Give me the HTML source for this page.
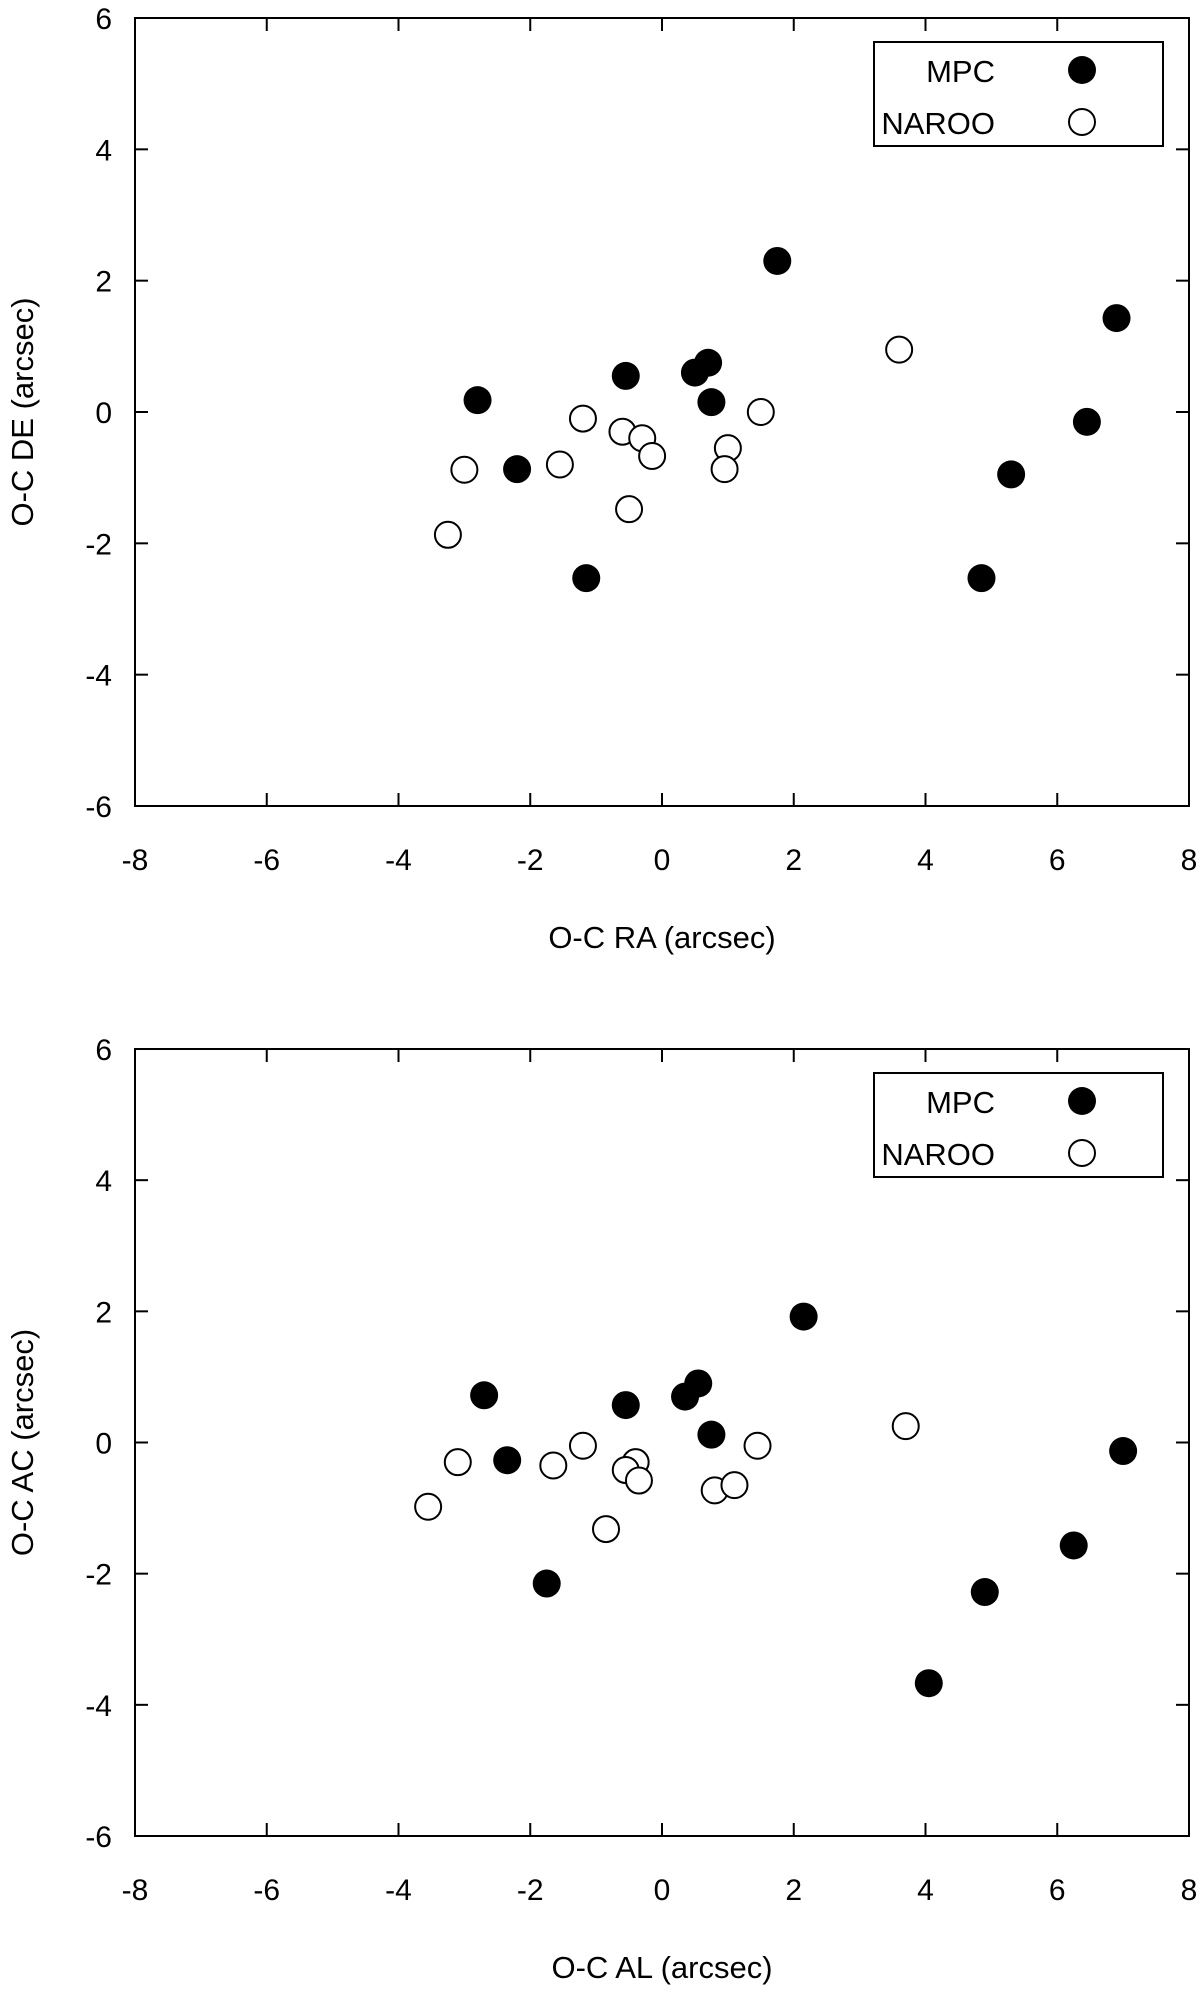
<!DOCTYPE html>
<html><head><meta charset="utf-8"><style>
html,body{margin:0;padding:0;background:#fff}
svg{display:block;font-family:"Liberation Sans",Arial,sans-serif}
</style></head><body>
<svg id="chart" width="1200" height="1992" viewBox="0 0 1200 1992"></svg>
<script>
const xTicks=[-8,-6,-4,-2,0,2,4,6,8];
const yTicks=[-6,-4,-2,0,2,4,6];
const topMpcX=[1.75,6.9,-0.55,0.5,0.7,0.75,-2.8,-2.2,6.45,5.3,-1.15,4.85];
const topMpcY=[2.3,1.43,0.55,0.6,0.75,0.15,0.18,-0.87,-0.15,-0.95,-2.53,-2.53];
const topNarooX=[3.6,1.5,1.0,0.95,-1.2,-0.6,-0.3,-0.15,-1.55,-3.0,-0.5,-3.25];
const topNarooY=[0.95,0,-0.55,-0.87,-0.1,-0.3,-0.4,-0.67,-0.8,-0.88,-1.48,-1.87];
const botMpcX=[2.15,-2.7,-0.55,0.35,0.55,0.75,-2.35,7.0,-1.75,6.25,4.9,4.05];
const botMpcY=[1.92,0.72,0.57,0.7,0.9,0.12,-0.27,-0.13,-2.15,-1.57,-2.28,-3.67];
const botNarooX=[3.7,1.45,-1.2,-1.65,-3.1,-0.4,-0.55,-0.35,0.8,1.1,-0.85,-3.55];
const botNarooY=[0.25,-0.05,-0.05,-0.35,-0.3,-0.3,-0.42,-0.58,-0.73,-0.65,-1.32,-0.98];

const NS="http://www.w3.org/2000/svg";
const svg=document.getElementById('chart');
function mk(tag,attrs,parent,text){const e=document.createElementNS(NS,tag);for(const k in attrs)e.setAttribute(k,attrs[k]);if(text!==undefined)e.textContent=text;(parent||svg).appendChild(e);return e;}

function panel(cfg){
  const L=135,R=1189,T=cfg.top,B=cfg.bottom;
  const g=mk('g',{});
  
  
  const sx=v=>L+(v+8)/16*(R-L);
  const sy=v=>B-(v+6)/12*(B-T);
  const frame=mk('rect',{x:L,y:T,width:R-L,height:B-T,fill:'none',stroke:'#000','stroke-width':2},g);
  
  
  xTicks.forEach(v=>{
    const x=sx(v);
    mk('line',{x1:x,y1:B,x2:x,y2:B-13,stroke:'#000','stroke-width':2},g);
    mk('line',{x1:x,y1:T,x2:x,y2:T+13,stroke:'#000','stroke-width':2},g);
    const t=mk('text',{x:x,y:B+64,'text-anchor':'middle','font-size':30},g,String(v));
    
    
  });
  yTicks.forEach(v=>{
    const y=sy(v);
    mk('line',{x1:L,y1:y,x2:L+13,y2:y,stroke:'#000','stroke-width':2},g);
    mk('line',{x1:R,y1:y,x2:R-13,y2:y,stroke:'#000','stroke-width':2},g);
    const t=mk('text',{x:L-23,y:y+11,'text-anchor':'end','font-size':30},g,String(v));
    
    
  });
  const xt=mk('text',{x:(L+R)/2,y:B+142,'text-anchor':'middle','font-size':31},g,cfg.xTitle);
  
  
  const cy=(T+B)/2;
  const yt=mk('text',{x:33,y:cy,'text-anchor':'middle','font-size':31,transform:`rotate(-90 33 ${cy})`},g,cfg.yTitle);
  
  
  cfg.nX.forEach((v,i)=>{
    const c=mk('circle',{cx:sx(v),cy:sy(cfg.nY[i]),r:13,fill:'#fff',stroke:'#000','stroke-width':2},g);
    
    
  });
  cfg.mX.forEach((v,i)=>{
    const c=mk('circle',{cx:sx(v),cy:sy(cfg.mY[i]),r:14,fill:'#000'},g);
    
    
  });
  const lg=mk('g',{},g);
  
  
  const ly=T+cfg.legOff;
  mk('rect',{x:874,y:ly,width:289,height:104,fill:'#fff',stroke:'#000','stroke-width':2},lg);
  const l1=mk('text',{x:995,y:ly+40,'text-anchor':'end','font-size':31},lg,'MPC');
  
  
  mk('circle',{cx:1082,cy:ly+28,r:14,fill:'#000'},lg);
  const l2=mk('text',{x:995,y:ly+92,'text-anchor':'end','font-size':31},lg,'NAROO');
  
  
  mk('circle',{cx:1082,cy:ly+80,r:13,fill:'#fff',stroke:'#000','stroke-width':2},lg);
}
panel({name:'top-panel',top:18,bottom:806,xTitle:'O-C RA (arcsec)',yTitle:'O-C DE (arcsec)',mX:topMpcX,mY:topMpcY,nX:topNarooX,nY:topNarooY,legOff:24});
panel({name:'bottom-panel',top:1049,bottom:1836,xTitle:'O-C AL (arcsec)',yTitle:'O-C AC (arcsec)',mX:botMpcX,mY:botMpcY,nX:botNarooX,nY:botNarooY,legOff:24});
</script>
</body></html>
